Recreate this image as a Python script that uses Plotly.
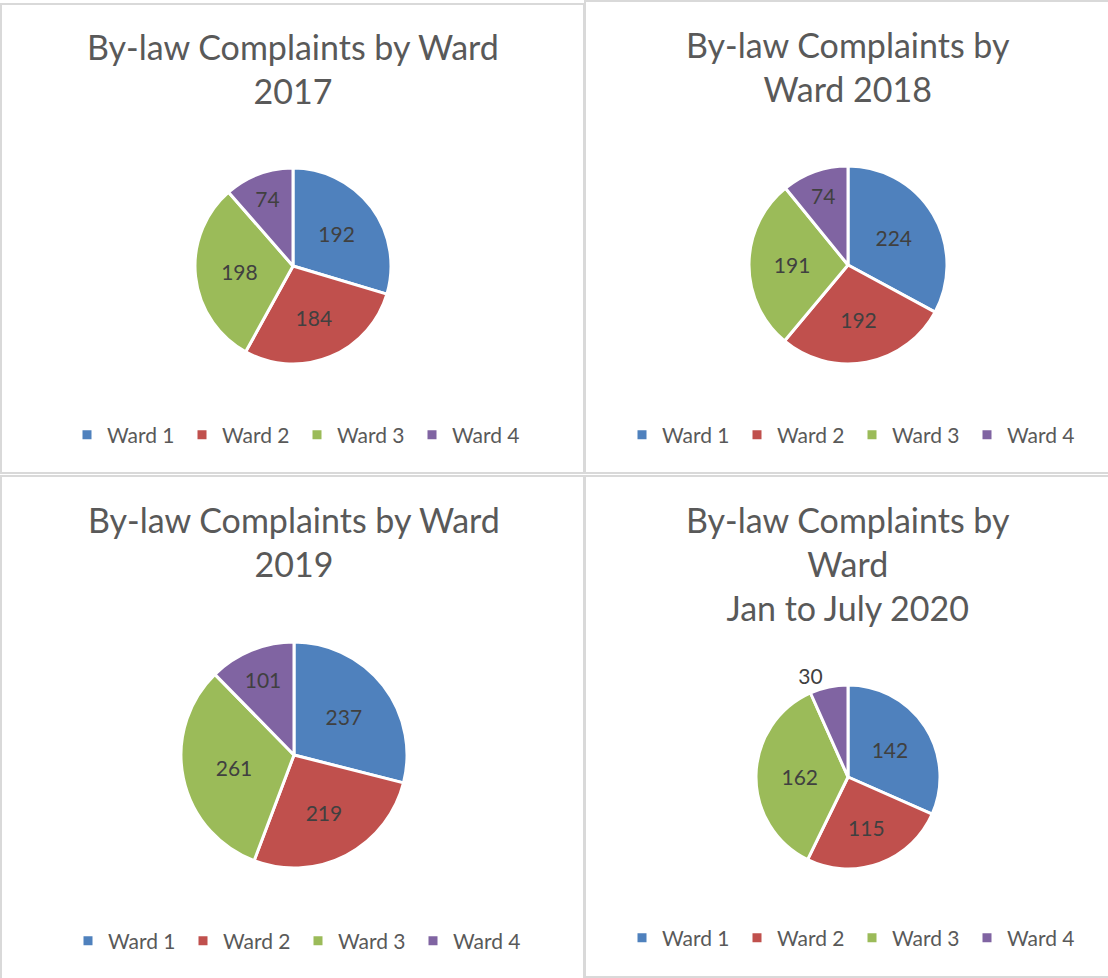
import plotly.graph_objects as go

W, H = 1108, 978

wards = ["Ward 1", "Ward 2", "Ward 3", "Ward 4"]
vals_2017 = [192, 184, 198, 74]
vals_2018 = [224, 192, 191, 74]
vals_2019 = [237, 219, 261, 101]
vals_2020 = [142, 115, 162, 30]

titles = [
    "By-law Complaints by Ward<br>2017",
    "By-law Complaints by<br>Ward 2018",
    "By-law Complaints by Ward<br>2019",
    "By-law Complaints by<br>Ward<br>Jan to July 2020",
]
colors = ["#4F81BD", "#C0504D", "#9BBB59", "#8064A2"]

FONT = "Lato"
TITLE_C = "#595959"
LABEL_C = "#404040"

panels = [
    dict(vals=vals_2017, cx=293, cy=266, r=98, ty=48, ly=435, leg="legend",
         pos=["inside"] * 4),
    dict(vals=vals_2018, cx=848, cy=265, r=99, ty=46, ly=435, leg="legend2",
         pos=["inside"] * 4),
    dict(vals=vals_2019, cx=294, cy=755, r=113, ty=521, ly=941, leg="legend3",
         pos=["inside"] * 4),
    dict(vals=vals_2020, cx=848, cy=777, r=92, ty=521, ly=938, leg="legend4",
         pos=["inside", "inside", "inside", "outside"]),
]

fig = go.Figure()

def px(x):
    return x / W

def py(y):
    return 1 - y / H

annotations = []
legends = {}
for i, p in enumerate(panels):
    cx, cy, r = p["cx"], p["cy"], p["r"]
    # invisible suffix keeps each panel's legend entries separate
    labels = [w + "\u200b" * i for w in wards]
    fig.add_trace(go.Pie(
        labels=labels,
        values=p["vals"],
        sort=False,
        direction="clockwise",
        rotation=0,
        marker=dict(colors=colors, line=dict(color="white", width=3)),
        textinfo="value",
        textposition=p["pos"],
        insidetextorientation="horizontal",
        textfont=dict(family=FONT, size=21, color=LABEL_C),
        domain=dict(x=[px(cx - r), px(cx + r)], y=[py(cy + r), py(cy - r)]),
        legend=p["leg"],
        showlegend=True,
        hoverinfo="label+value+percent",
    ))
    annotations.append(dict(
        text=titles[i], x=px(cx), y=py(p["ty"] - 24), xref="paper", yref="paper",
        xanchor="center", yanchor="top", showarrow=False, align="center",
        font=dict(family=FONT, size=34, color=TITLE_C),
    ))
    legends[p["leg"]] = dict(
        orientation="h", x=px(cx + 4), y=py(p["ly"]), xanchor="center", yanchor="middle",
        font=dict(family=FONT, size=21, color=TITLE_C),
        entrywidth=70, entrywidthmode="pixels",
        bgcolor="rgba(0,0,0,0)", itemclick=False, itemdoubleclick=False,
    )

borders = [
    (1, 4, 584, 473),
    (585, 1, 1110, 473),
    (1, 476, 584, 990),
    (585, 476, 1110, 977),
]
shapes = []
for x0, y0, x1, y1 in borders:
    shapes.append(dict(type="rect", xref="paper", yref="paper",
                       x0=px(x0), x1=px(x1), y0=py(y1), y1=py(y0),
                       line=dict(color="#D9D9D9", width=2), layer="below"))

fig.update_layout(
    width=W, height=H,
    margin=dict(l=0, r=0, t=0, b=0),
    paper_bgcolor="white", plot_bgcolor="white",
    annotations=annotations,
    shapes=shapes,
    **legends,
)

fig.write_html("out.html")
